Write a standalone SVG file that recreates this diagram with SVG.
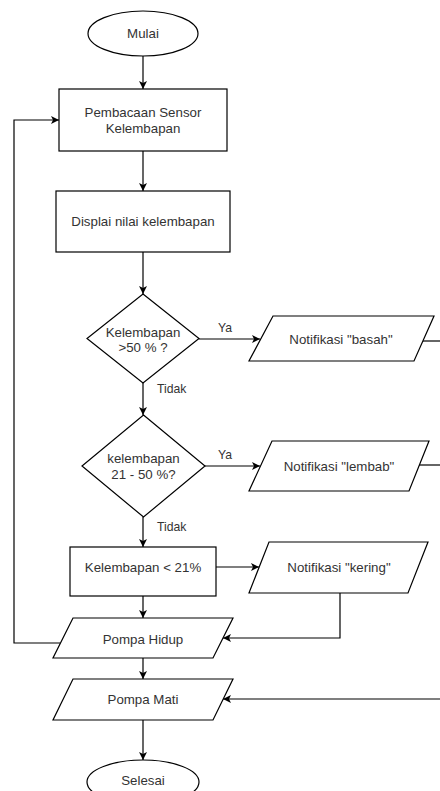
<svg xmlns="http://www.w3.org/2000/svg" width="440" height="791" viewBox="0 0 440 791">
<style>
.n{fill:#fff;stroke:#000;stroke-width:1.2}
.t{font-family:"Liberation Sans",Arial,sans-serif;font-size:13.3px;fill:#333;text-anchor:middle;dominant-baseline:central}
.l{font-family:"Liberation Sans",Arial,sans-serif;font-size:12.2px;fill:#333}
.c{fill:none;stroke:#000;stroke-width:1.2}
</style>
<defs>
<marker id="a" markerWidth="10" markerHeight="10" refX="9" refY="5" orient="auto" markerUnits="userSpaceOnUse">
<path d="M1,1 L9,5 L1,9 L3,5 Z" fill="#000"/>
</marker>
</defs>
<rect width="440" height="791" fill="#fff"/>
<g id="connectors">
<path class="c" d="M143 56 V89" marker-end="url(#a)"/>
<path class="c" d="M143 151 V191" marker-end="url(#a)"/>
<path class="c" d="M143 252 V294" marker-end="url(#a)"/>
<path class="c" d="M199 339 H260" marker-end="url(#a)"/>
<path class="c" d="M143 383 V415" marker-end="url(#a)"/>
<path class="c" d="M205 466 H260" marker-end="url(#a)"/>
<path class="c" d="M143 517 V547" marker-end="url(#a)"/>
<path class="c" d="M216 567 H259" marker-end="url(#a)"/>
<path class="c" d="M340 593 V638 H223" marker-end="url(#a)"/>
<path class="c" d="M143 596 V618" marker-end="url(#a)"/>
<path class="c" d="M60 643 H14 V120 H59" marker-end="url(#a)"/>
<path class="c" d="M143 658 V679" marker-end="url(#a)"/>
<path class="c" d="M440 699 H223" marker-end="url(#a)"/>
<path class="c" d="M143 720 V760" marker-end="url(#a)"/>
<path class="c" d="M423 341 H440"/>
<path class="c" d="M419 465 H440"/>
<text class="l" x="218" y="332">Ya</text>
<text class="l" x="157" y="393">Tidak</text>
<text class="l" x="218" y="459">Ya</text>
<text class="l" x="157" y="531">Tidak</text>
</g>
<g id="mulai"><ellipse class="n" cx="143" cy="33.5" rx="55" ry="22.5"/><text class="t" x="143" y="33.5">Mulai</text></g>
<g id="pembacaan"><rect class="n" x="59" y="89" width="168" height="62"/><text class="t" x="143" y="112">Pembacaan Sensor</text><text class="t" x="143" y="128">Kelembapan</text></g>
<g id="displai"><rect class="n" x="56" y="191" width="174" height="61"/><text class="t" x="143" y="221">Displai nilai kelembapan</text></g>
<g id="cek50"><polygon class="n" points="143,294 199,338.5 143,383 87,338.5"/><text class="t" x="143" y="332">Kelembapan</text><text class="t" x="143" y="347">&gt;50 % ?</text></g>
<g id="basah"><polygon class="n" points="273,316 434,316 414,361 249,361"/><text class="t" x="341" y="339">Notifikasi "basah"</text></g>
<g id="cek21"><polygon class="n" points="143.5,415 205,466 143.5,517 82,466"/><text class="t" x="143.5" y="458">kelembapan</text><text class="t" x="143.5" y="474">21 - 50 %?</text></g>
<g id="lembab"><polygon class="n" points="272,441 429,441 409,491 249,491"/><text class="t" x="339" y="466">Notifikasi "lembab"</text></g>
<g id="kurang21"><rect class="n" x="70" y="547" width="146" height="49"/><text class="t" x="143" y="567">Kelembapan &lt; 21%</text></g>
<g id="kering"><polygon class="n" points="269,542 428,542 408,593 249,593"/><text class="t" x="339" y="567">Notifikasi "kering"</text></g>
<g id="pompahidup"><polygon class="n" points="73,618 233,618 213,658 53,658"/><text class="t" x="143" y="639">Pompa Hidup</text></g>
<g id="pompamati"><polygon class="n" points="73,679 233,679 213,720 53,720"/><text class="t" x="143" y="699">Pompa Mati</text></g>
<g id="selesai"><ellipse class="n" cx="143" cy="782" rx="56" ry="22"/><text class="t" x="143" y="780">Selesai</text></g>
</svg>
